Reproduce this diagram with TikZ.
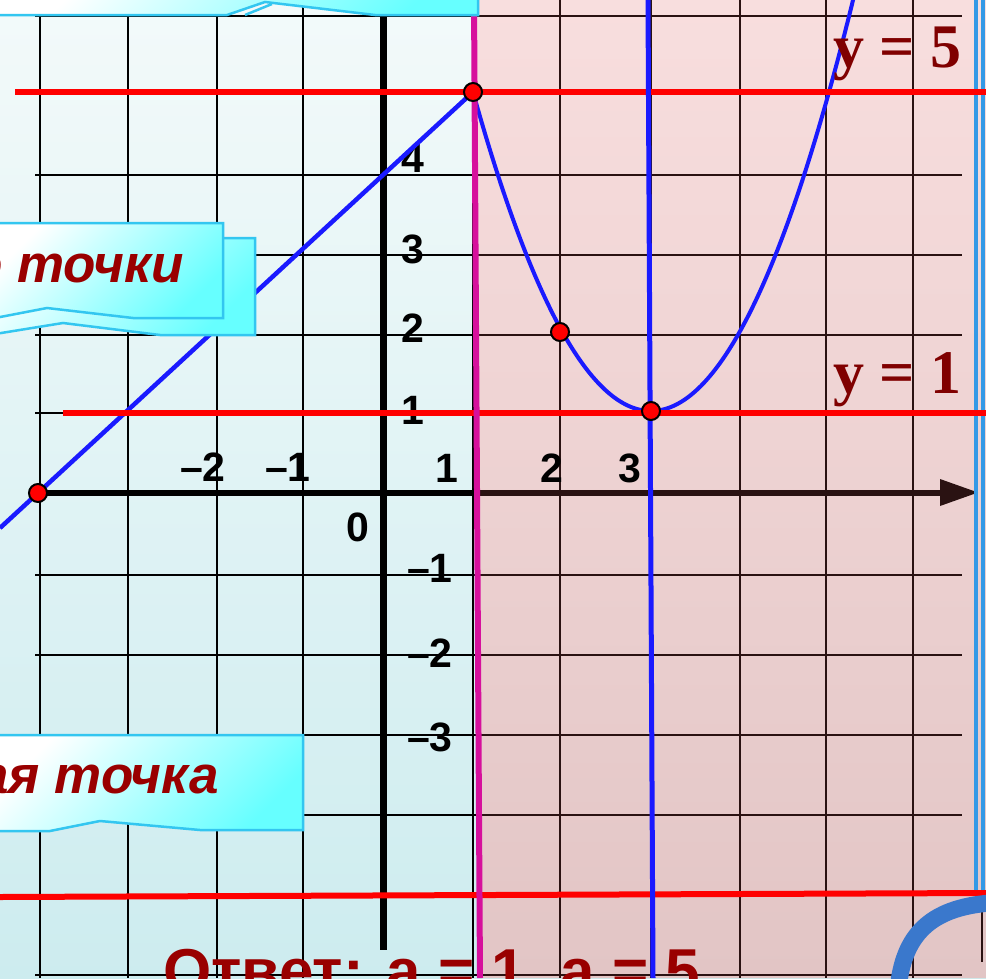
\documentclass[tikz,border=0pt]{standalone}
\usepackage{fontspec}
\setmainfont{Liberation Sans}
\newfontfamily\serifbold{Liberation Serif}
\definecolor{bgT}{HTML}{F3FAFA}
\definecolor{bgM}{HTML}{E6F4F5}
\definecolor{bgB}{HTML}{CDECEF}
\definecolor{pkT}{HTML}{F8DEDE}
\definecolor{pkM}{HTML}{EEE9EA}
\definecolor{pkB}{HTML}{E2C5C5}
\definecolor{gridbrown}{HTML}{2A1212}
\definecolor{txtred}{HTML}{990000}
\definecolor{eqred}{HTML}{800000}
\definecolor{callC}{HTML}{66FFFF}
\definecolor{callB}{HTML}{33C6F0}
\definecolor{lineblue}{HTML}{1A1AFF}
\definecolor{magentaL}{HTML}{D6109C}
\definecolor{arcblue}{HTML}{3A78CC}
\definecolor{edgeblue}{HTML}{3399E6}
\newcommand\mygrid[1]{%
  \foreach \gx in {40,128,217,303,473,560,651,740,826,913}
    \draw[gridline,#1] (\gx,0) -- (\gx,978);
  \foreach \gy in {16,92,175,255,335,413,575,655,735,815,895,975}
    \draw[gridline,#1] (35,\gy) -- (962,\gy);
  \draw[#1, line width=6] (40,493) -- (945,493);
  \fill[#1] (940,479) -- (978,492.5) -- (940,506) -- cycle;
  \draw[#1, line width=7] (383,0) -- (383,950);
}
\begin{document}
\begin{tikzpicture}[x=1pt,y=-1pt,
  gridline/.style={line width=2.2},
  redline/.style={draw=red, line width=6},
  dot/.style={circle, fill=red, draw=black, line width=2, minimum size=18, inner sep=0},
  lbl/.style={font=\fontsize{41}{41}\selectfont\bfseries, inner sep=0},
  eqlbl/.style={font=\fontsize{62}{62}\selectfont\serifbold\bfseries, text=eqred, inner sep=0},
  calltxt/.style={font=\fontsize{53}{53}\selectfont\bfseries\itshape, text=txtred, inner sep=0},
  callbox/.style={draw=callB, line width=2.5, shading=axis, top color=white, bottom color=callC, shading angle=45}]
\useasboundingbox (0,0) rectangle (986,978);
\clip (0,0) rectangle (986,978);
% backgrounds
\shade[top color=bgT, middle color=bgM, bottom color=bgB] (0,0) rectangle (986,978);
\shade[top color=pkT, middle color=pkM, bottom color=pkB] (476,0) -- (986,0) -- (986,978) -- (482,978) -- cycle;
% grid and axes
\begin{scope}
  \clip (0,0) -- (476,0) -- (482,978) -- (0,978) -- cycle;
  \mygrid{black}
\end{scope}
\begin{scope}
  \clip (476,0) -- (986,0) -- (986,978) -- (482,978) -- cycle;
  \mygrid{gridbrown}
\end{scope}
\draw[gridbrown, line width=2] (982,910) -- (982,962);
% axis labels
\node[lbl] (y4) at (413,158) {4};
\node[lbl] (y3) at (413,249) {3};
\node[lbl] (y2) at (413,328) {2};
\node[lbl] (y1) at (413,410) {1};
\node[lbl] (ym1) at (430,568) {–1};
\node[lbl] (ym2) at (430,653) {–2};
\node[lbl] (ym3) at (430,737) {–3};
\node[lbl] (xm2) at (203,467) {–2};
\node[lbl] (xm1) at (288,467) {–1};
\node[lbl] (x1) at (447,468) {1};
\node[lbl] (x2) at (552,468) {2};
\node[lbl] (x3) at (630,468) {3};
\node[lbl] (o) at (358,527) {0};
% right edge lines
\draw[edgeblue, line width=3.5] (976,0) -- (976,892);
\draw[edgeblue, line width=3.5] (983,0) -- (983,892);
% graphs
\draw[lineblue, line width=4.5] (0,528) -- (473,92);
\draw[lineblue, line width=4] plot[domain=1:5.35, samples=90, smooth] ({473+89*(\x-1)}, {411-79.75*(\x-3)^2});
\draw[redline] (15,92) -- (986,92);
\draw[redline] (63,413) -- (986,413);
\draw[redline] (0,897) -- (986,893);
\draw[lineblue, line width=5] (648,0) -- (653,978);
\draw[magentaL, line width=6] (474,0) -- (480,978);
% points
\node[dot] (A) at (473,92) {};
\node[dot] (B) at (560,332) {};
\node[dot] (C) at (651,411) {};
\node[dot] (D) at (38,493) {};
% equations
\node[eqlbl, anchor=base west] (e5) at (833,67) {y = 5};
\node[eqlbl, anchor=base west] (e1) at (833,393) {y = 1};
% callouts
\shade[callbox] (-5,-5) -- (478,-5) -- (478,15) -- (375,15) -- (265,2) -- (227,15) -- (-5,15) -- cycle;
\draw[callB, line width=2.5] (245,15) -- (272,4);
\shade[callbox] (-5,238) -- (255,238) -- (255,335) -- (160,335) -- (63,323) -- (-5,334) -- cycle;
\shade[callbox] (-5,223) -- (223,223) -- (223,318) -- (133,318) -- (47,308) -- (-5,318) -- cycle;
\node[calltxt, anchor=base east] (t1) at (184,282) {о точки};
\shade[callbox] (-5,735) -- (303,735) -- (303,830) -- (200,830) -- (100,821) -- (50,831) -- (-5,831) -- cycle;
\node[calltxt, anchor=base east] (t2) at (219,793) {ая точка};
% arc
\draw[arcblue, line width=17] (898,990) .. controls (903,935) and (930,908) .. (990,903);
% answer
\node[font=\fontsize{62}{62}\selectfont\bfseries, text=txtred, inner sep=0, anchor=base west] (ans) at (163,992) {Ответ: a = 1, a = 5};
\end{tikzpicture}
\end{document}
